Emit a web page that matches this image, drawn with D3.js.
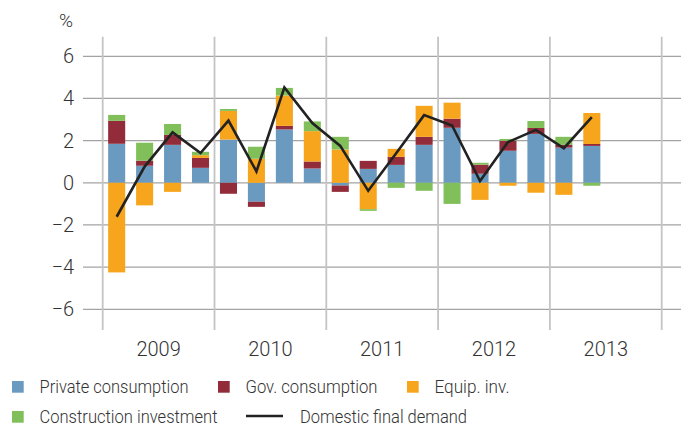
<!DOCTYPE html>
<html>
<head>
<meta charset="utf-8">
<script src="https://cdn.jsdelivr.net/npm/d3@7"></script>
<style>
  body { margin: 0; background: #fff; }
  svg text { font-family: Roboto, "Liberation Sans", sans-serif; font-weight: 300; fill: #333; }
</style>
</head>
<body>
<script>
// quarters 2009Q1 .. 2013Q4 (last two empty)
var quarters = [];
[2009, 2010, 2011, 2012, 2013].forEach(function (y) {
  [1, 2, 3, 4].forEach(function (q) { quarters.push(y + "Q" + q); });
});
var years = ["2009", "2010", "2011", "2012", "2013"];
var yTicks = [-6, -4, -2, 0, 2, 4, 6];

// contributions, percentage points
var privateCons = [1.85, 0.81, 1.80, 0.71, 2.05, -0.90, 2.53, 0.68, -0.13, 0.66, 0.85, 1.80, 2.61, 0.43, 1.52, 2.32, 1.67, 1.75];
var govCons     = [1.09, 0.24, 0.47, 0.47, -0.52, -0.24, 0.17, 0.33, -0.30, 0.38, 0.38, 0.38, 0.43, 0.43, 0.47, 0.28, 0.13, 0.09];
var equipInv    = [-4.25, -1.07, -0.43, 0.13, 1.36, 1.14, 1.44, 1.44, 1.58, -1.25, 0.38, 1.47, 0.76, -0.81, -0.14, -0.47, -0.57, 1.47];
var constrInv   = [0.28, 0.85, 0.52, 0.16, 0.09, 0.57, 0.36, 0.46, 0.60, -0.08, -0.24, -0.38, -1.00, 0.09, 0.09, 0.33, 0.38, -0.14];
var demand      = [-1.61, 0.77, 2.39, 1.41, 2.95, 0.54, 4.52, 2.83, 1.75, -0.38, 1.40, 3.21, 2.72, 0.08, 1.93, 2.51, 1.64, 3.11];

var keys = ["priv", "gov", "equip", "constr"];
var names = ["Private consumption", "Gov. consumption", "Equip. inv.", "Construction investment"];
var colors = ["#6a9ac0", "#922b3a", "#f7a51c", "#81bf5b"];

var rows = privateCons.map(function (v, i) {
  return { q: quarters[i], priv: v, gov: govCons[i], equip: equipInv[i], constr: constrInv[i], dem: demand[i] };
});

var W = 688, H = 429;
var svg = d3.select("body").append("svg").attr("width", W).attr("height", H);

var x = d3.scaleBand().domain(quarters).range([102.7, 661.7]).paddingInner(0.39).paddingOuter(0.195);
var y = d3.scaleLinear().domain([-7, 7]).range([330.4, 35.2]);

// horizontal grid + ticks
svg.append("g").selectAll("line").data(yTicks).enter().append("line")
  .attr("x1", 83).attr("x2", 681)
  .attr("y1", function (d) { return y(d); }).attr("y2", function (d) { return y(d); })
  .attr("stroke", "#a3a3a3").attr("stroke-width", 1.3);

// vertical year separators
var sep = d3.range(0, 21, 4).map(function (i) { return x.range()[0] + i * x.step(); });
svg.append("g").selectAll("line").data(sep).enter().append("line")
  .attr("x1", function (d) { return d; }).attr("x2", function (d) { return d; })
  .attr("y1", 36.7).attr("y2", 330)
  .attr("stroke", "#c4c4c4").attr("stroke-width", 1.8);

// y labels
svg.append("g").selectAll("text").data(yTicks).enter().append("text")
  .attr("x", 74).attr("y", function (d) { return y(d) + 7; })
  .attr("text-anchor", "end").style("font-size", "20px")
  .text(function (d) { return d < 0 ? "\u2212" + Math.abs(d) : d; });
svg.append("text").attr("x", 66).attr("y", 27).attr("text-anchor", "middle")
  .style("font-size", "19px").text("%");

// year labels
svg.append("g").selectAll("text").data(years).enter().append("text")
  .attr("x", function (d, i) { return (sep[i] + sep[i + 1]) / 2; })
  .attr("y", 356).attr("text-anchor", "middle").style("font-size", "20px")
  .text(function (d) { return d; });

// stacked bars
var stack = d3.stack().keys(keys).offset(d3.stackOffsetDiverging);
var series = stack(rows);
svg.append("g").selectAll("g").data(series).enter().append("g")
  .attr("fill", function (d, i) { return colors[i]; })
  .selectAll("rect").data(function (d) { return d; }).enter().append("rect")
  .attr("x", function (d) { return x(d.data.q); })
  .attr("width", x.bandwidth())
  .attr("y", function (d) { return y(Math.max(d[0], d[1])); })
  .attr("height", function (d) { return Math.abs(y(d[0]) - y(d[1])); });

// domestic final demand line
var line = d3.line()
  .x(function (d) { return x(d.q) + x.bandwidth() / 2; })
  .y(function (d) { return y(d.dem); });
svg.append("path").datum(rows).attr("d", line)
  .attr("fill", "none").attr("stroke", "#222").attr("stroke-width", 2.6)
  .attr("stroke-linejoin", "miter");

// legend
var leg = [
  { t: "sq", c: colors[0], n: names[0], x: 12, y: 381, w: 149 },
  { t: "sq", c: colors[1], n: names[1], x: 218, y: 381, w: 132 },
  { t: "sq", c: colors[2], n: names[2], x: 407, y: 381, w: 75 },
  { t: "sq", c: colors[3], n: names[3], x: 12, y: 411, w: 178 },
  { t: "ln", c: "#222", n: "Domestic final demand", x: 246, y: 411, w: 167 }
];
leg.forEach(function (d) {
  var tx;
  if (d.t === "sq") {
    svg.append("rect").attr("x", d.x).attr("y", d.y).attr("width", 11.7).attr("height", 11.7).attr("fill", d.c);
    tx = d.x + 27.5;
  } else {
    svg.append("line").attr("x1", d.x).attr("x2", d.x + 37).attr("y1", d.y + 5).attr("y2", d.y + 5)
      .attr("stroke", d.c).attr("stroke-width", 2.4);
    tx = d.x + 54;
  }
  svg.append("text").attr("x", tx).attr("y", d.y + 12).style("font-size", "19px")
    .attr("textLength", d.w).attr("lengthAdjust", "spacingAndGlyphs").text(d.n);
});
</script>
</body>
</html>
